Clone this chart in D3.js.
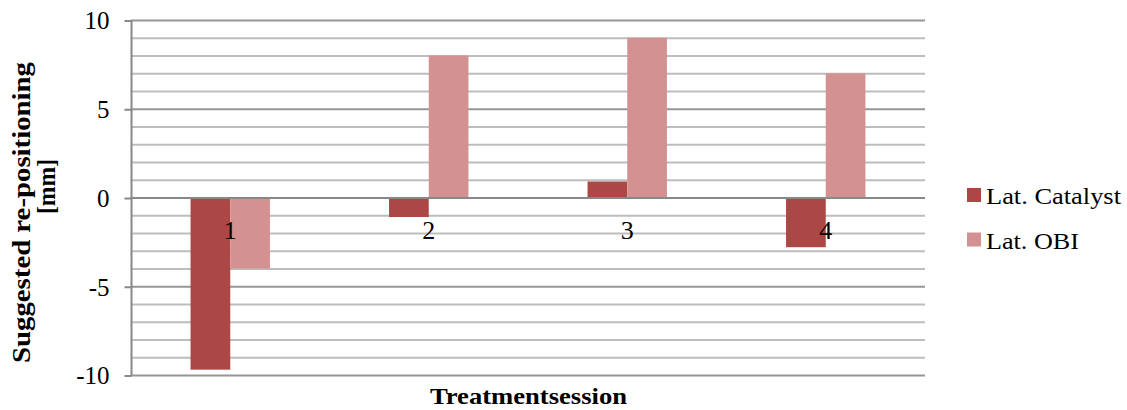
<!DOCTYPE html>
<html>
<head>
<meta charset="utf-8">
<script src="https://cdn.jsdelivr.net/npm/d3@7"></script>
<style>
  html, body { margin: 0; padding: 0; background: #fff; }
  svg { display: block; font-family: "Liberation Serif", "Times New Roman", serif; }
</style>
</head>
<body>
<svg id="chart" width="1127" height="410"></svg>
<script>
// Treatment sessions and suggested lateral re-positioning per system [mm]
const sessions = ["1", "2", "3", "4"];
const seriesNames = ["Lat. Catalyst", "Lat. OBI"];
const latCatalyst = [-9.7, -1.1, 0.9, -2.8];
const latOBI = [-4, 8, 9, 7];
const yTicks = [-10, -5, 0, 5, 10];
const seriesColors = ["#AB4745", "#D39291"];

const svg = d3.select("#chart");
const FONT = "'Liberation Serif', 'Times New Roman', serif";

const y = d3.scaleLinear().domain([-10, 10]).range([375, 20]);
const x = d3.scaleBand().domain(sessions).range([131, 925]).paddingInner(0).paddingOuter(0);
// two bars per session with a 300% gap between groups
const barW = x.bandwidth() / 5;
const xs = d3.scaleBand().domain(seriesNames).range([0, 2 * barW]);

// gridlines: minor every unit, major every 5
const minor = d3.range(-10, 11, 1).filter(v => v % 5 !== 0);
svg.append("g").selectAll("line").data(minor).join("line")
  .attr("x1", 131).attr("x2", 925)
  .attr("y1", d => y(d) + 0.5).attr("y2", d => y(d) + 0.5)
  .attr("stroke", "#BDBDBD").attr("stroke-width", 2);
svg.append("g").selectAll("line").data(yTicks.filter(v => v !== 0)).join("line")
  .attr("x1", 131).attr("x2", 925)
  .attr("y1", d => y(d) + 0.5).attr("y2", d => y(d) + 0.5)
  .attr("stroke", "#969696").attr("stroke-width", 2);

// bars
const data = sessions.map((s, i) => ({ s, vals: [latCatalyst[i], latOBI[i]] }));
const groups = svg.append("g").selectAll("g").data(data).join("g")
  .attr("transform", d => `translate(${x(d.s) + (x.bandwidth() - 2 * barW) / 2},0)`);
groups.selectAll("rect").data(d => d.vals.map((v, j) => ({ v, name: seriesNames[j], j })))
  .join("rect")
  .attr("x", d => xs(d.name))
  .attr("width", xs.bandwidth())
  .attr("y", d => y(Math.max(0, d.v)))
  .attr("height", d => Math.abs(y(d.v) - y(0)))
  .attr("fill", d => seriesColors[d.j]);

// zero line
svg.append("line")
  .attr("x1", 131).attr("x2", 925)
  .attr("y1", y(0) + 0.5).attr("y2", y(0) + 0.5)
  .attr("stroke", "#888888").attr("stroke-width", 2);

// y axis with outward major ticks
const yAxis = d3.axisLeft(y).tickValues(yTicks).tickSize(7).tickPadding(15)
  .tickFormat(d => String(d));
const ya = svg.append("g").attr("transform", "translate(131.5,0)").call(yAxis);
ya.attr("font-family", FONT).attr("font-size", 25);
ya.select(".domain").attr("stroke", "#888888").attr("stroke-width", 2).attr("d", `M0,${y(10)}V${y(-10) + 1}`);
ya.selectAll(".tick line").attr("stroke", "#888888").attr("stroke-width", 2).attr("transform", "translate(0,0.5)");
ya.selectAll(".tick text").attr("fill", "#000").attr("dy", "0.35em").attr("y", 0);

// category labels next to the zero line
svg.append("g").selectAll("text").data(sessions).join("text")
  .attr("x", d => x(d) + x.bandwidth() / 2)
  .attr("y", y(0) + 41.5)
  .attr("text-anchor", "middle")
  .attr("font-size", 26)
  .text(d => d);

// axis titles
svg.append("text")
  .attr("x", 430).attr("y", 404)
  .attr("font-size", 24).attr("font-weight", "bold")
  .attr("textLength", 197).attr("lengthAdjust", "spacingAndGlyphs")
  .text("Treatmentsession");

svg.append("text")
  .attr("transform", "translate(30,363) rotate(-90)")
  .attr("font-size", 26).attr("font-weight", "bold")
  .attr("textLength", 301).attr("lengthAdjust", "spacingAndGlyphs")
  .text("Suggested re-positioning");
svg.append("text")
  .attr("transform", "translate(55,214) rotate(-90)")
  .attr("font-size", 26).attr("font-weight", "bold")
  .attr("textLength", 55).attr("lengthAdjust", "spacingAndGlyphs")
  .text("[mm]");

// legend
const legend = svg.append("g").attr("transform", "translate(967,188)");
const li = legend.selectAll("g").data(seriesNames).join("g")
  .attr("transform", (d, i) => `translate(0,${i * 44.5})`);
li.append("rect").attr("width", 14).attr("height", 14).attr("fill", (d, i) => seriesColors[i]);
li.append("text").attr("x", 19).attr("y", 16).attr("font-size", 24)
  .attr("textLength", (d, i) => i === 0 ? 135 : 93).attr("lengthAdjust", "spacingAndGlyphs")
  .text(d => d);
</script>
</body>
</html>
